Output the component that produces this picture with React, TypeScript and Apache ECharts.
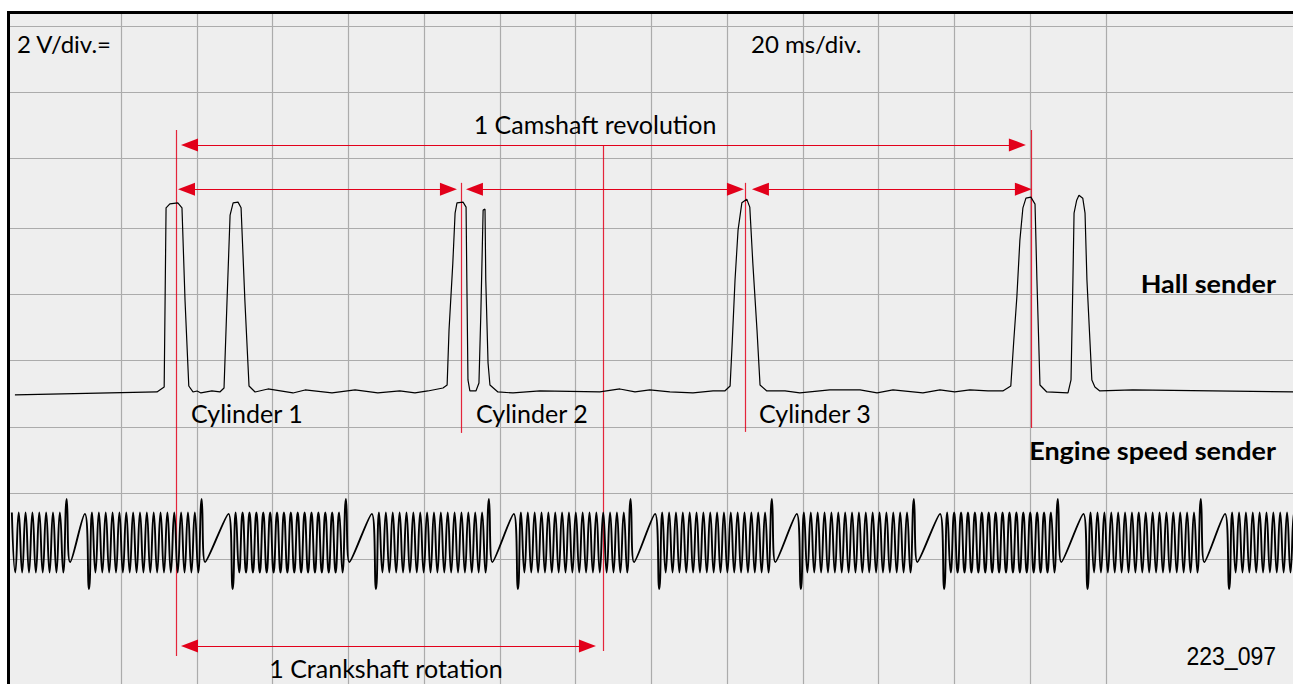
import React, { useEffect, useRef } from "react";
import * as echarts from "echarts";

// ---------- Hall sender trace: [time ms, volts] ----------
const hallSamples: number[][] = [
  [-28.0, 0.92], [9.5, 1.01], [11.4, 1.16], [11.9, 6.54], [12.9, 6.66], [15.0, 6.69], [16.1, 6.54], [16.9, 3.77],
  [17.9, 1.19], [19.0, 1.01], [20.1, 1.04], [21.1, 0.98], [24.0, 1.04], [26.1, 1.01], [27.2, 1.13], [28.0, 3.77],
  [28.8, 6.32], [29.6, 6.69], [30.9, 6.71], [31.7, 6.54], [32.7, 3.77], [33.8, 1.19], [35.4, 1.01], [38.8, 1.10],
  [45.4, 0.98], [48.6, 1.07], [55.7, 0.98], [61.8, 1.07], [67.8, 0.98], [73.6, 1.04], [77.6, 0.98], [81.0, 1.04],
  [85.0, 1.13], [86.1, 1.22], [86.6, 2.87], [87.6, 4.88], [88.2, 6.38], [88.7, 6.69], [90.3, 6.71], [91.1, 6.56],
  [91.3, 4.37], [91.6, 1.37], [92.1, 1.04], [93.7, 1.04], [94.5, 1.28], [95.0, 3.38], [95.6, 6.47], [96.1, 6.50],
  [96.3, 4.37], [96.9, 1.88], [97.4, 1.22], [99.5, 1.01], [103.5, 0.98], [110.6, 1.04], [126.4, 1.01], [131.7, 1.10],
  [135.7, 1.01], [139.6, 1.07], [144.9, 1.01], [151.0, 0.98], [156.3, 1.04], [159.4, 1.04], [160.8, 1.19], [161.3, 2.35],
  [162.1, 4.37], [162.9, 5.87], [163.9, 6.69], [165.2, 6.80], [166.0, 6.56], [166.8, 4.88], [167.9, 2.87], [168.7, 1.22],
  [170.5, 1.04], [175.3, 1.04], [179.2, 0.98], [187.1, 1.07], [195.1, 1.07], [199.6, 0.98], [203.8, 1.07], [211.7, 0.98],
  [216.2, 1.07], [220.1, 1.01], [224.1, 1.07], [228.9, 1.04], [232.8, 1.04], [234.9, 1.19], [235.7, 2.57], [236.5, 3.86],
  [237.3, 5.57], [238.1, 6.54], [238.9, 6.83], [240.2, 6.86], [241.3, 6.65], [241.8, 4.37], [242.6, 1.22], [244.4, 1.01],
  [250.0, 0.98], [250.8, 1.37], [251.3, 4.37], [251.6, 6.38], [252.3, 6.77], [252.9, 6.92], [253.9, 6.83], [254.5, 6.38],
  [255.0, 4.37], [256.3, 1.37], [257.1, 1.16], [258.4, 1.04], [267.1, 1.07], [309.4, 1.01],
];

// ---------- Engine speed sender ----------
const speedGapSpikeTime = [-14.33, 21.3, 59.39, 97.14, 134.54, 171.84, 209.32, 247.33, 285.08];
const speedGapDropTime = [-8.45, 29.48, 67.31, 104.79, 142.09, 179.49, 217.32, 255.17, 292.55];
const speedLeadTeeth = 8;
const speedTeethPerSegment = 16;
const speedTailTeeth = 10;
const speedToothPeriod = 1.81;
const speedToothHigh = -2.61;
const speedToothLow = -4.41;
const speedSpikeHigh = -2.2;
const speedDipLow = -4.1;
const speedRampTop = -2.65;
const speedDropLow = -4.91;
const speedDipDelay = 0.9;
const speedRampLead = 1.1;
const speedFirstToothDelay = 0.8;

// ---------- Red cursors and spans ----------
const cursorTime = [14.52, 89.75, 127.23, 164.71, 240.2];
const cursorTop = [8.88, 7.29, 8.43, 7.29, 8.88];
const cursorBottom = [-6.92, -0.22, -6.77, -0.19, -0.07];

const spanFrom = [15.84, 15.05, 91.07, 166.56, 15.84];
const spanTo = [238.88, 88.69, 164.45, 240.47, 125.38];
const spanLevel = [8.43, 7.1, 7.1, 7.1, -6.62];

// time divisions (20 ms/div) and data ranges
const xTicksMin = 0;
const xTicksMax = 260;
const xTickStep = 20;
const yMin = -7.76;
const yMax = 12;

function buildSpeedTrace(): number[][] {
  const pts: number[][] = [];
  const p = speedToothPeriod;
  const s0 = speedGapSpikeTime[0];
  for (let k = speedLeadTeeth; k >= 1; k--) {
    pts.push([s0 - k * p, speedToothHigh]);
    pts.push([s0 - k * p + p / 2, speedToothLow]);
  }
  for (let i = 0; i < speedGapSpikeTime.length; i++) {
    const s = speedGapSpikeTime[i];
    const n = speedGapDropTime[i];
    pts.push([s, speedSpikeHigh]);
    pts.push([s + speedDipDelay, speedDipLow]);
    pts.push([n - speedRampLead, speedRampTop]);
    pts.push([n, speedDropLow]);
    const first = n + speedFirstToothDelay;
    const next = speedGapSpikeTime[i + 1];
    const count = next !== undefined ? speedTeethPerSegment : speedTailTeeth;
    const step = next !== undefined ? (next - first) / speedTeethPerSegment : p;
    for (let k = 0; k < count; k++) {
      pts.push([first + k * step, speedToothHigh]);
      pts.push([first + k * step + step / 2, speedToothLow]);
    }
  }
  return pts;
}

const RED = "#e2001a";
const GRID = "#ababab";
const FONT = "Lato, 'Open Sans', sans-serif";

// pixel layout
const PLOT_LEFT = 10;
const VGRID_LEFT = 121;
const DIV_W = 75.77;
const X_MIN = -29.3;
const X_MAX = 309.4;
const HEAD_LEN = 17;

export default function App() {
  const ref = useRef<HTMLDivElement>(null);
  useEffect(() => {
    if (!ref.current) return;
    const chart = echarts.init(ref.current, undefined, { renderer: "svg" });
    const pxPerMs = (1293 - PLOT_LEFT) / (X_MAX - X_MIN);
    const headMs = HEAD_LEN / 2 / pxPerMs;

    const txt = (
      text: string,
      x: number,
      y: number,
      align: string,
      size: number,
      weight: string = "normal",
      family: string = FONT,
      scaleX: number = 1
    ) => ({
      type: "text",
      x,
      y,
      scaleX,
      z: 200,
      silent: true,
      style: {
        text,
        fill: "#000",
        font: `${weight} ${size}px ${family}`,
        align,
        verticalAlign: "middle",
      },
    });

    const hiddenX = (gridIndex: number) => ({
      type: "value",
      gridIndex,
      min: 0,
      max: 1,
      show: false,
    });
    const hLines = (gridIndex: number, count: number) => ({
      type: "value",
      gridIndex,
      min: 0,
      max: count,
      interval: 1,
      axisLine: { show: false },
      axisTick: { show: false },
      axisLabel: { show: false },
      splitLine: { show: true, lineStyle: { color: GRID, width: 1.2 } },
    });

    const option: any = {
      animation: false,
      backgroundColor: "#eeeeee",
      grid: [
        { left: VGRID_LEFT, top: 14, width: DIV_W * 13, height: 670 },
        { left: PLOT_LEFT, top: 26, width: 1293 - PLOT_LEFT, height: 658 },
        { left: PLOT_LEFT, top: 26, width: 1293 - PLOT_LEFT, height: 132.3 },
        { left: PLOT_LEFT, top: 228.3, width: 1293 - PLOT_LEFT, height: 331 },
      ],
      xAxis: [
        {
          type: "value",
          gridIndex: 0,
          min: xTicksMin,
          max: xTicksMax,
          interval: xTickStep,
          axisLine: { show: false },
          axisTick: { show: false },
          axisLabel: { show: false },
          splitLine: { show: true, lineStyle: { color: GRID, width: 1.2 } },
        },
        {
          type: "value",
          gridIndex: 1,
          min: X_MIN,
          max: X_MAX,
          axisLine: { show: false },
          axisTick: { show: false },
          axisLabel: { show: false },
          splitLine: { show: false },
        },
        hiddenX(2),
        hiddenX(3),
      ],
      yAxis: [
        { type: "value", gridIndex: 0, min: 0, max: 1, show: false },
        {
          type: "value",
          gridIndex: 1,
          min: yMin,
          max: yMax,
          axisLine: { show: false },
          axisTick: { show: false },
          axisLabel: { show: false },
          splitLine: { show: false },
        },
        hLines(2, 2),
        hLines(3, 5),
      ],
      series: [
        {
          type: "line",
          name: "Hall sender",
          xAxisIndex: 1,
          yAxisIndex: 1,
          data: hallSamples,
          symbol: "none",
          silent: true,
          lineStyle: { color: "#000", width: 1.2 },
          z: 5,
        },
        {
          type: "line",
          name: "Engine speed sender",
          xAxisIndex: 1,
          yAxisIndex: 1,
          data: buildSpeedTrace(),
          symbol: "none",
          smooth: 0.5,
          silent: true,
          lineStyle: { color: "#000", width: 1.9 },
          z: 5,
        },
        {
          type: "line",
          name: "cursors",
          xAxisIndex: 1,
          yAxisIndex: 1,
          data: [],
          silent: true,
          z: 6,
          markLine: {
            silent: true,
            animation: false,
            symbol: ["none", "none"],
            label: { show: false },
            emphasis: { disabled: true },
            lineStyle: { color: RED, width: 1.2, type: "solid", opacity: 0.85 },
            data: cursorTime.map((t, i) => [
              { coord: [t, cursorTop[i]] },
              { coord: [t, cursorBottom[i]] },
            ]),
          },
        },
        {
          type: "line",
          name: "spans",
          xAxisIndex: 1,
          yAxisIndex: 1,
          data: [],
          silent: true,
          z: 7,
          markLine: {
            silent: true,
            animation: false,
            symbol: ["triangle", "triangle"],
            symbolSize: [13, HEAD_LEN],
            label: { show: false },
            emphasis: { disabled: true },
            lineStyle: { color: RED, width: 1.2, type: "solid" },
            data: spanFrom.map((f, i) => [
              { coord: [f + headMs, spanLevel[i]] },
              { coord: [spanTo[i] - headMs, spanLevel[i]] },
            ]),
          },
        },
      ],
      graphic: [
        { type: "rect", z: 150, silent: true, shape: { x: 0, y: 0, width: 1293, height: 11 }, style: { fill: "#fff" } },
        { type: "rect", z: 150, silent: true, shape: { x: 0, y: 0, width: 7, height: 684 }, style: { fill: "#fff" } },
        { type: "rect", z: 151, silent: true, shape: { x: 7, y: 11, width: 1286, height: 3 }, style: { fill: "#000" } },
        { type: "rect", z: 151, silent: true, shape: { x: 7, y: 11, width: 3, height: 673 }, style: { fill: "#000" } },
        txt("2 V/div.=", 17, 43.3, "left", 24),
        txt("20 ms/div.", 751, 43.3, "left", 24),
        txt("1 Camshaft revolution", 595, 124, "center", 25),
        txt("Cylinder 1", 191, 413, "left", 25),
        txt("Cylinder 2", 476, 413, "left", 25),
        txt("Cylinder 3", 759, 413, "left", 25),
        txt("Hall sender", 1276, 283, "right", 25, "bold", FONT, 1.08),
        txt("Engine speed sender", 1276, 450.3, "right", 25, "bold", FONT, 1.08),
        txt("1 Crankshaft rotation", 386, 668, "center", 25),
        txt("223_097", 1276, 656.3, "right", 25, "normal", "'Liberation Sans', Arial, sans-serif", 0.92),
      ],
    };
    chart.setOption(option);
    return () => chart.dispose();
  }, []);
  return (
    <div
      ref={ref}
      style={{ position: "fixed", left: 0, top: 0, width: 1293, height: 684, background: "#fff" }}
    />
  );
}
